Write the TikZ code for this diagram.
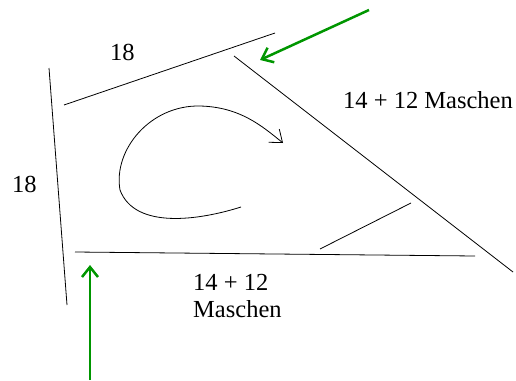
\documentclass[tikz,border=0pt]{standalone}
\usepackage{fontspec}
\setmainfont{Liberation Serif}
\usetikzlibrary{arrows.meta}
\definecolor{arrgreen}{RGB}{0,150,0}
\tikzset{
  edge/.style={draw=black,line width=0.8pt},
  greenarrow/.style={draw=arrgreen,line width=2.5pt,-{Straight Barb[length=10pt,width=16pt]}},
  turnarrow/.style={draw=black,line width=0.8pt,-{Straight Barb[length=11pt,width=17pt]}},
  lbl/.style={inner sep=0pt,anchor=base west,font=\fontsize{24.5}{29}\selectfont}
}
\begin{document}
\begin{tikzpicture}[x=1pt,y=-1pt]
\useasboundingbox (0,0) rectangle (516,380);
% named end points
\coordinate (topA) at (64,105);
\coordinate (topB) at (275,33);
\coordinate (diagA) at (234,56);
\coordinate (diagB) at (513,272);
\coordinate (leftA) at (49,68);
\coordinate (leftB) at (67,305);
\coordinate (botA) at (75,252);
\coordinate (botB) at (475,256);
\coordinate (smallA) at (320,249);
\coordinate (smallB) at (411,203);
\coordinate (g1s) at (369,10);
\coordinate (g1e) at (260,60);
\coordinate (g2s) at (90,380);
\coordinate (g2e) at (90,265);
\coordinate (cs) at (241,207);
\coordinate (cm1) at (120,190);
\coordinate (cm2) at (200,106);
\coordinate (ce) at (283,143);
% edges
\draw[edge] (topA) -- (topB);
\draw[edge] (diagA) -- (diagB);
\draw[edge] (leftA) -- (leftB);
\draw[edge] (botA) -- (botB);
\draw[edge] (smallA) -- (smallB);
% turning arrow
\draw[turnarrow] (cs) .. controls (200,220) and (135,230) .. (cm1)
  .. controls (113,150) and (150,105) .. (cm2)
  .. controls (240,107) and (262,126) .. (ce);
% green arrows
\draw[greenarrow] (g1s) -- (g1e);
\draw[greenarrow] (g2s) -- (g2e);
% labels
\node[lbl] (ltop) at (110,60) {18};
\node[lbl] (lleft) at (12,192) {18};
\node[lbl] (lright) at (343,108) {14 + 12 Maschen};
\node[lbl] (lbot1) at (193,290) {14 + 12};
\node[lbl] (lbot2) at (193,317) {Maschen};
\end{tikzpicture}
\end{document}
